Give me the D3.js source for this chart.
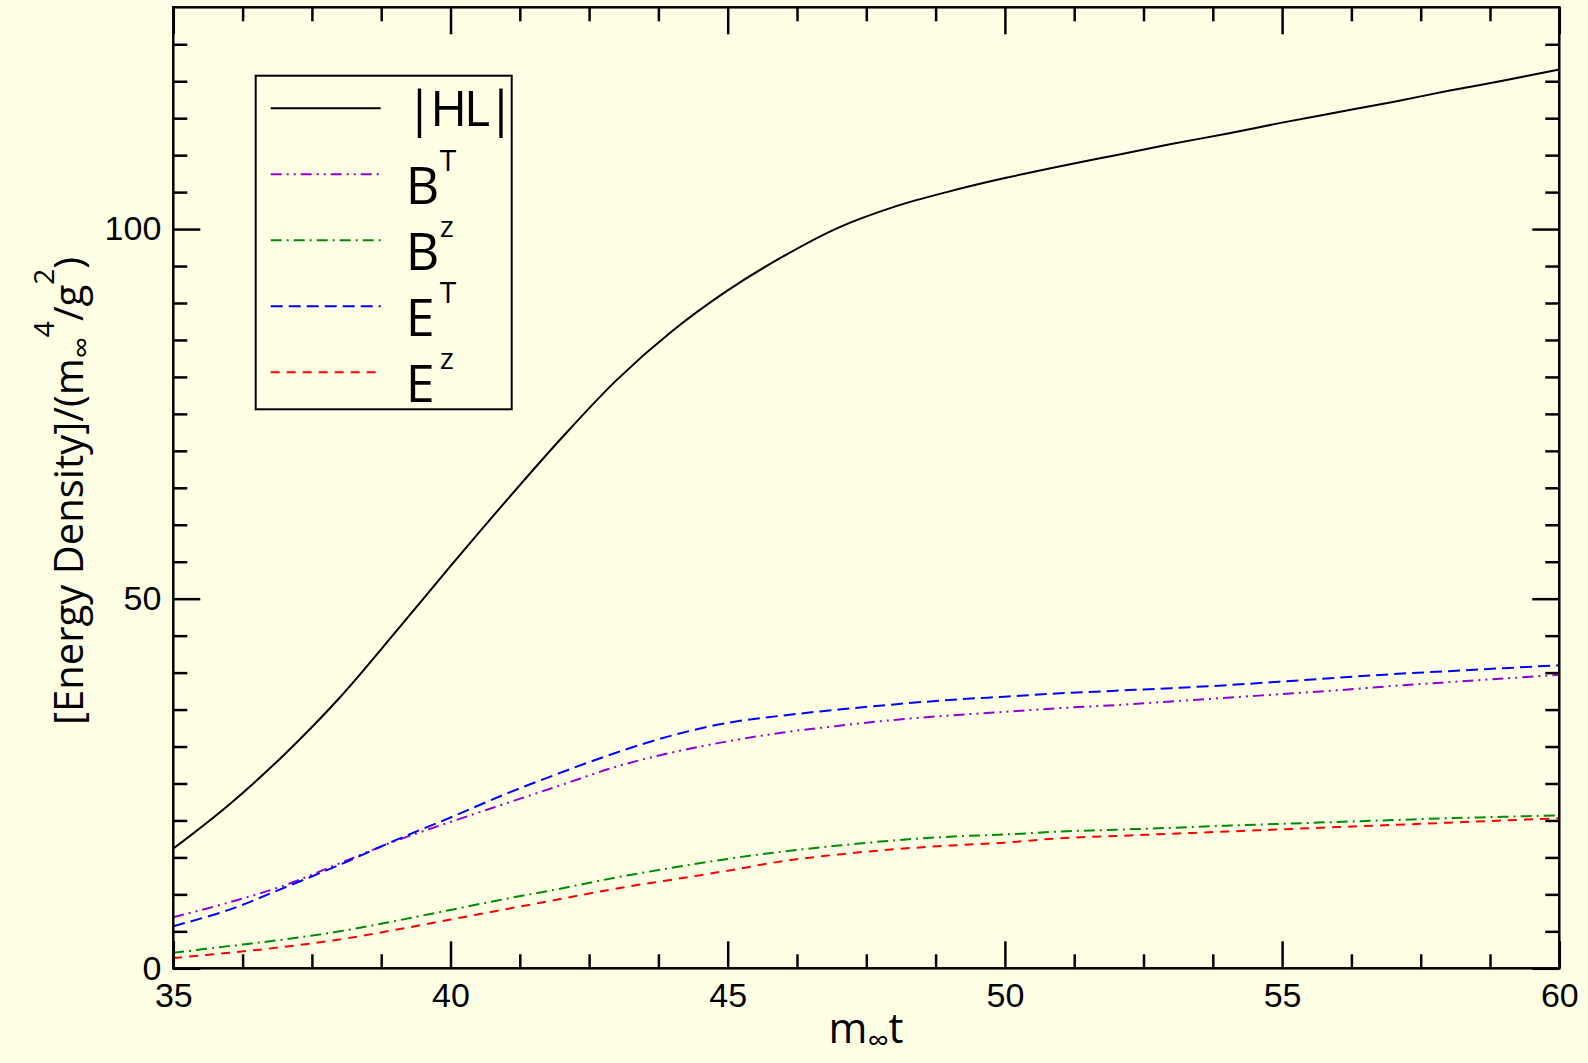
<!DOCTYPE html>
<meta charset="utf-8">
<style>
    body { margin: 0; background: #fefee4; }
    svg { display: block; font-family: "Open Sans", sans-serif; }
    .axis text { font-size: 34px; fill: #000; }
    .axis line { stroke: #000; stroke-width: 2.5; }
    .axis path { display: none; }
</style>
<svg width="1588" height="1063"></svg>
<script src="https://d3js.org/d3.v7.min.js"></script>
<script>

    // time m_inf * t
    var times = [35, 36, 37, 38, 39, 40, 41, 42, 43, 44, 45, 46, 47, 48, 49, 50, 51, 52, 53, 54, 55, 56, 57, 58, 59, 60];

    // energy densities
    var hl = [16.2, 22.1, 28.9, 36.6, 45.4, 54.4, 63.2, 71.7, 79.6, 86.2, 91.7, 96.3, 100.2, 103.0, 105.1, 106.9,
        108.5, 110.0, 111.5, 112.9, 114.4, 115.8, 117.2, 118.7, 120.1, 121.6];
    var bT = [6.9, 8.9, 11.2, 14.2, 17.2, 19.8, 22.3, 24.8, 27.3, 29.2, 30.7, 31.9, 32.8, 33.6, 34.2, 34.7,
        35.2, 35.6, 36.1, 36.6, 37.1, 37.6, 38.2, 38.7, 39.2, 39.7];
    var bz = [2.1, 3.0, 3.9, 5.0, 6.4, 7.9, 9.4, 10.8, 12.3, 13.6, 14.8, 15.8, 16.6, 17.3, 17.8, 18.1,
        18.5, 18.75, 19.0, 19.3, 19.55, 19.8, 20.05, 20.3, 20.5, 20.7];
    var eT = [5.7, 7.9, 10.9, 14.0, 17.3, 20.4, 23.6, 26.5, 29.2, 31.5, 33.2, 34.2, 35.0, 35.7, 36.3, 36.75,
        37.2, 37.55, 37.9, 38.3, 38.8, 39.3, 39.8, 40.2, 40.6, 41.0];
    var ez = [1.4, 2.1, 2.9, 3.9, 5.2, 6.6, 8.0, 9.4, 10.8, 12.0, 13.2, 14.5, 15.4, 16.1, 16.6, 17.0,
        17.6, 17.9, 18.2, 18.5, 18.8, 19.1, 19.4, 19.7, 20.0, 20.3];

    var xTicks = [35, 40, 45, 50, 55, 60];
    var yTicks = [0, 50, 100];

    var series = [
        { name: "|HL|", sup: "", values: hl, color: "#000000", dash: null },
        { name: "B", sup: "T", values: bT, color: "#9400d3", dash: "11,5,2,5,2,5" },
        { name: "B", sup: "z", values: bz, color: "#008c00", dash: "11,5,2,5" },
        { name: "E", sup: "T", values: eT, color: "#0000ff", dash: "12,6" },
        { name: "E", sup: "z", values: ez, color: "#ff0000", dash: "9,7" }
    ];

    var svg = d3.select("svg"),
        margin = { top: 7.3, right: 28.7, bottom: 94.7, left: 173.3 },
        width = +svg.attr("width") - margin.left - margin.right,
        height = +svg.attr("height") - margin.top - margin.bottom;

    var x = d3.scaleLinear().domain([35, 60]).range([0, width]),
        y = d3.scaleLinear().domain([0, 130]).range([height, 0]);

    var g = svg.append("g")
        .attr("transform", "translate(" + margin.left + "," + margin.top + ")");

    var xMinor = d3.range(35, 60.01, 1.25).filter(function (d) { return xTicks.indexOf(d) < 0; });
    var yMinor = d3.range(5, 130, 5).filter(function (d) { return yTicks.indexOf(d) < 0; });

    // bottom
    g.append("g").attr("class", "axis")
        .attr("transform", "translate(0," + height + ")")
        .call(d3.axisBottom(x).tickValues(xTicks).tickSize(-27).tickSizeOuter(0).tickPadding(15).tickFormat(d3.format("d")));
    g.append("g").attr("class", "axis")
        .attr("transform", "translate(0," + height + ")")
        .call(d3.axisBottom(x).tickValues(xMinor).tickSize(-14).tickSizeOuter(0).tickFormat(""));
    // top
    g.append("g").attr("class", "axis")
        .call(d3.axisTop(x).tickValues(xTicks).tickSize(-27).tickSizeOuter(0).tickFormat(""));
    g.append("g").attr("class", "axis")
        .call(d3.axisTop(x).tickValues(xMinor).tickSize(-14).tickSizeOuter(0).tickFormat(""));
    // left
    g.append("g").attr("class", "axis")
        .call(d3.axisLeft(y).tickValues(yTicks).tickSize(-27).tickSizeOuter(0).tickPadding(12).tickFormat(d3.format("d")));
    g.append("g").attr("class", "axis")
        .call(d3.axisLeft(y).tickValues(yMinor).tickSize(-14).tickSizeOuter(0).tickFormat(""));
    // right
    g.append("g").attr("class", "axis")
        .attr("transform", "translate(" + width + ",0)")
        .call(d3.axisRight(y).tickValues(yTicks).tickSize(-27).tickSizeOuter(0).tickFormat(""));
    g.append("g").attr("class", "axis")
        .attr("transform", "translate(" + width + ",0)")
        .call(d3.axisRight(y).tickValues(yMinor).tickSize(-14).tickSizeOuter(0).tickFormat(""));

    var line = d3.line()
        .x(function (d, i) { return x(times[i]); })
        .y(function (d) { return y(d); })
        .curve(d3.curveCatmullRom.alpha(0.5));

    g.selectAll(".curve")
        .data(series)
        .enter().append("path")
        .attr("class", "curve")
        .attr("d", function (d) { return line(d.values); })
        .attr("fill", "none")
        .attr("stroke", function (d) { return d.color; })
        .attr("stroke-width", 2)
        .attr("stroke-dasharray", function (d) { return d.dash; });

    g.append("rect")
        .attr("width", width)
        .attr("height", height)
        .attr("fill", "none")
        .attr("stroke", "#000")
        .attr("stroke-width", 2.5);

    // legend
    var legend = svg.append("g").attr("transform", "translate(255.7,75.7)");
    legend.append("rect")
        .attr("width", 256)
        .attr("height", 333.6)
        .attr("fill", "none")
        .attr("stroke", "#000")
        .attr("stroke-width", 2);

    var item = legend.selectAll(".item")
        .data(series)
        .enter().append("g")
        .attr("class", "item")
        .attr("transform", function (d, i) { return "translate(0," + (32.6 + i * 66) + ")"; });

    item.append("line")
        .attr("x1", 15).attr("x2", 125)
        .attr("stroke", function (d) { return d.color; })
        .attr("stroke-width", 2)
        .attr("stroke-dasharray", function (d) { return d.dash; });

    item.append("text")
        .attr("x", 150)
        .attr("y", function (d) { return d.sup ? 30 : 18; })
        .attr("font-size", function (d) { return d.sup ? "52px" : "50px"; })
        .attr("letter-spacing", function (d) { return d.sup ? null : "-3px"; })
        .text(function (d) { return d.name; });

    item.append("text")
        .attr("x", 184)
        .attr("y", -3)
        .attr("font-size", "30px")
        .text(function (d) { return d.sup; });

    // axis titles
    var xt = svg.append("text")
        .attr("x", 866)
        .attr("y", 1043)
        .attr("text-anchor", "middle")
        .attr("font-size", "42px");
    xt.append("tspan").text("m");
    xt.append("tspan").attr("font-size", "30px").attr("dy", 8).text("\u221e");
    xt.append("tspan").attr("dy", -8).text("t");

    var yt = svg.append("text")
        .attr("transform", "translate(83,491) rotate(-90)")
        .attr("text-anchor", "middle")
        .attr("font-size", "40px");
    yt.append("tspan").text("[Energy Density]/(m");
    yt.append("tspan").attr("font-size", "30px").attr("dy", 9).text("\u221e");
    yt.append("tspan").attr("font-size", "28px").attr("dy", -38).text("4");
    yt.append("tspan").attr("dy", 29).text("/g");
    yt.append("tspan").attr("font-size", "28px").attr("dy", -29).text("2");
    yt.append("tspan").attr("dy", 29).text(")");

</script>
